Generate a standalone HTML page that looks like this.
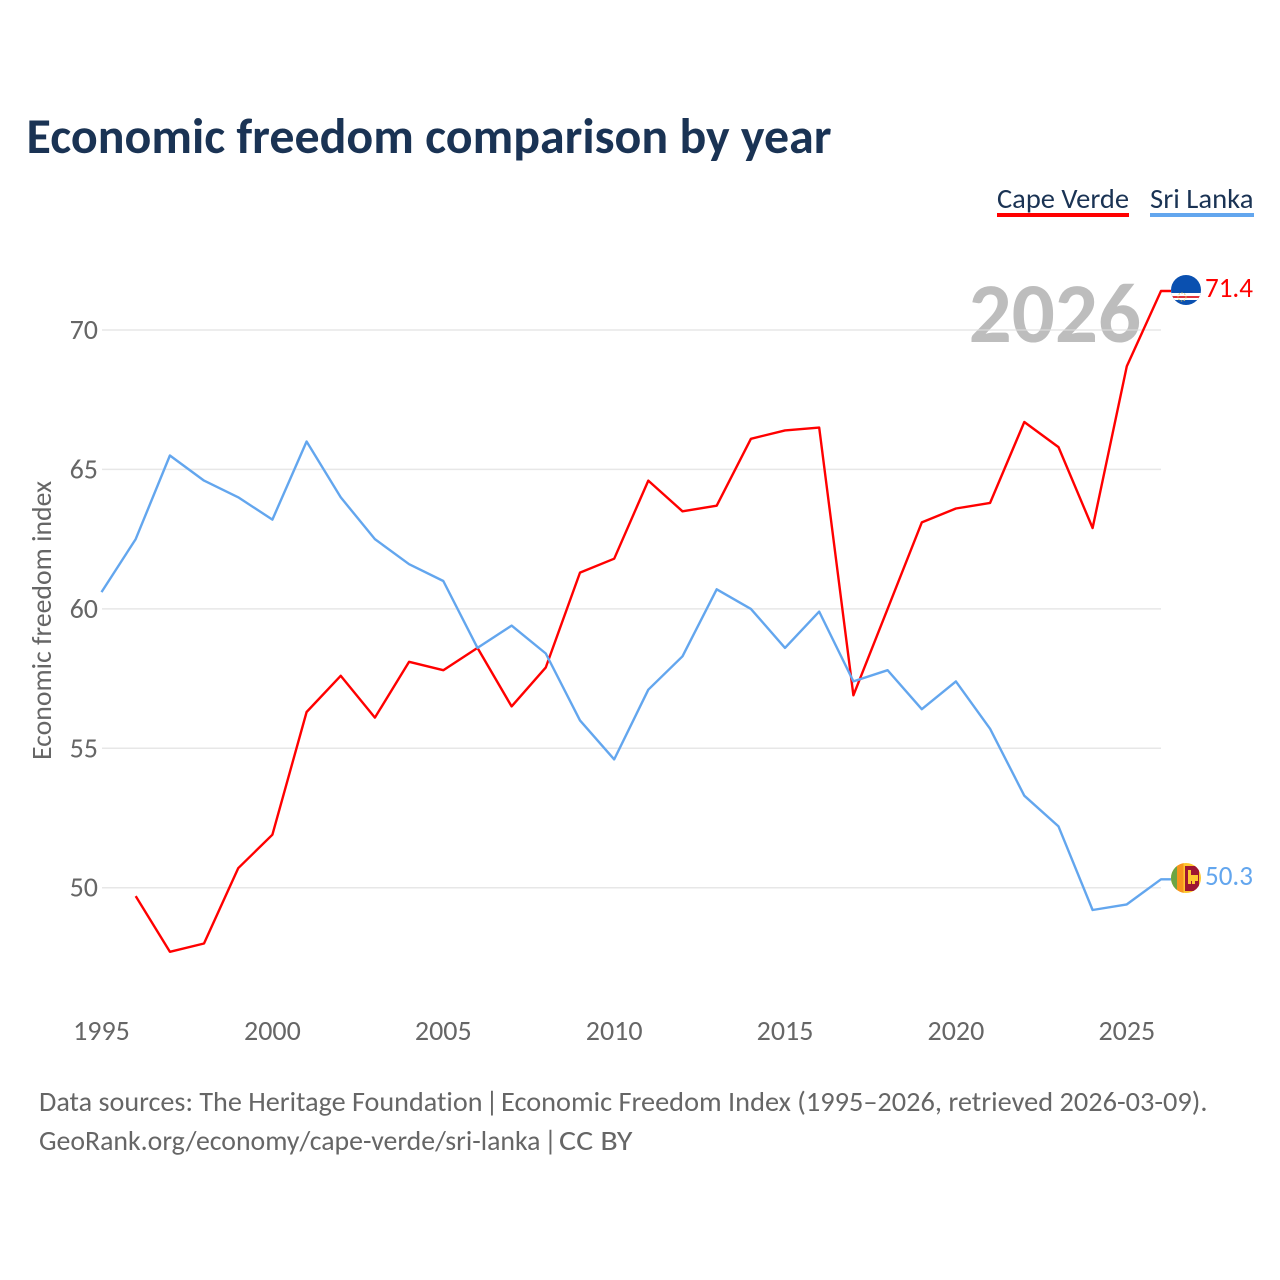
<!DOCTYPE html>
<html><head><meta charset="utf-8"><title>Economic freedom comparison by year</title>
<style>
html,body{margin:0;padding:0;background:#fff;width:1280px;height:1280px;overflow:hidden}
svg{display:block;font-family:Carlito,Lato,"Liberation Sans",sans-serif;font-variant-ligatures:none}
</style></head>
<body>
<svg id="chart" width="1280" height="1280" viewBox="0 0 1280 1280" xmlns="http://www.w3.org/2000/svg">
<defs>
<clipPath id="cv-clip"><circle cx="1186" cy="290" r="15"/></clipPath>
<clipPath id="lk-clip"><circle cx="1186" cy="878" r="15"/></clipPath>
</defs>
<text x="26.5" y="153" font-size="50" font-weight="700" fill="#1a3354" textLength="805" lengthAdjust="spacingAndGlyphs">Economic freedom comparison by year</text>
<text x="1141" y="342" text-anchor="end" font-size="85" font-weight="700" fill="#bdbdbd">2026</text>
<g id="grid"></g>
<g id="yticks"></g>
<g id="xticks"></g>
<text transform="translate(51,620.5) rotate(-90)" text-anchor="middle" font-size="27.5" fill="#666" textLength="279" lengthAdjust="spacingAndGlyphs">Economic freedom index</text>
<g id="series"></g>
<g>
<text x="997" y="208" font-size="28" fill="#1a3354" textLength="132" lengthAdjust="spacingAndGlyphs">Cape Verde</text>
<rect x="997" y="213" width="132" height="4" fill="#ff0000"/>
</g>
<g>
<text x="1150" y="208" font-size="28" fill="#1a3354" textLength="103.5" lengthAdjust="spacingAndGlyphs">Sri Lanka</text>
<rect x="1150" y="213" width="104" height="4" fill="#63a6ee"/>
</g>
<g clip-path="url(#cv-clip)">
<rect x="1171" y="275" width="30" height="30" fill="#0a50b0"/>
<rect x="1171" y="293" width="30" height="7" fill="#fff"/>
<rect x="1171" y="296" width="30" height="2" fill="#e0343c"/>
<circle cx="1182" cy="297" r="4" fill="none" stroke="#d8c060" stroke-width="1" stroke-dasharray="1.5 1.5"/>
</g>
<g clip-path="url(#lk-clip)">
<rect x="1171" y="863" width="30" height="30" fill="#fdc82f"/>
<rect x="1171" y="863" width="6" height="30" fill="#6ca544"/>
<rect x="1177" y="863" width="6.5" height="30" fill="#f7941d"/>
<rect x="1185" y="866" width="14" height="25" fill="#9e1631"/>
<rect x="1188" y="870" width="3" height="14" fill="#fdc82f"/>
<rect x="1188" y="875" width="10" height="6" fill="#fdc82f"/>
<rect x="1192" y="881" width="3" height="3" fill="#fdc82f"/>
</g>
<text id="cv-label" x="1205" y="297" font-size="28" fill="#ff0000" textLength="48" lengthAdjust="spacingAndGlyphs">71.4</text>
<text id="lk-label" x="1205" y="885" font-size="28" fill="#63a6ee" textLength="48" lengthAdjust="spacingAndGlyphs">50.3</text>
<g font-size="28" fill="#666">
<text x="39" y="1111" textLength="443.5" lengthAdjust="spacingAndGlyphs">Data sources: The Heritage Foundation</text>
<text x="485.5" y="1111">|</text>
<text x="501" y="1111" textLength="706.5" lengthAdjust="spacingAndGlyphs">Economic Freedom Index (1995–2026, retrieved 2026-03-09).</text>
<text x="39" y="1150" textLength="501.5" lengthAdjust="spacingAndGlyphs">GeoRank.org/economy/cape-verde/sri-lanka</text>
<text x="544" y="1150">|</text>
<text x="559" y="1150" textLength="73.5" lengthAdjust="spacingAndGlyphs">CC BY</text>
</g>
</svg>
<script>
const years = [1995,1996,1997,1998,1999,2000,2001,2002,2003,2004,2005,2006,2007,2008,2009,2010,2011,2012,2013,2014,2015,2016,2017,2018,2019,2020,2021,2022,2023,2024,2025,2026];
const capeVerde = [null,49.7,47.7,48.0,50.7,51.9,56.3,57.6,56.1,58.1,57.8,58.6,56.5,57.9,61.3,61.8,64.6,63.5,63.7,66.1,66.4,66.5,56.9,60.0,63.1,63.6,63.8,66.7,65.8,62.9,68.7,71.4];
const sriLanka = [60.6,62.5,65.5,64.6,64.0,63.2,66.0,64.0,62.5,61.6,61.0,58.6,59.4,58.4,56.0,54.6,57.1,58.3,60.7,60.0,58.6,59.9,57.4,57.8,56.4,57.4,55.7,53.3,52.2,49.2,49.4,50.3];
const yTickValues = [50,55,60,65,70];
const xTickValues = [1995,2000,2005,2010,2015,2020,2025];

const NS = 'http://www.w3.org/2000/svg';
function xScale(v){ return 101.5 + (v - 1995) * (1161 - 101.5) / 31; }
function yScale(v){ return 887.7 - (v - 50) * (887.7 - 330) / 20; }

const grid = document.getElementById('grid');
const yticks = document.getElementById('yticks');
const xticks = document.getElementById('xticks');
const seriesG = document.getElementById('series');

yTickValues.forEach(function(v){
  const l = document.createElementNS(NS,'line');
  
  
  l.setAttribute('x1', 102);
  l.setAttribute('x2', 1161);
  l.setAttribute('y1', yScale(v));
  l.setAttribute('y2', yScale(v));
  l.setAttribute('stroke', '#ddd');
  l.setAttribute('stroke-opacity', 0.7);
  l.setAttribute('stroke-width', 1.5);
  grid.appendChild(l);
  const t = document.createElementNS(NS,'text');
  
  
  t.setAttribute('x', 98);
  t.setAttribute('y', yScale(v) + 9);
  t.setAttribute('text-anchor', 'end');
  t.setAttribute('font-size', 28);
  t.setAttribute('fill', '#666');
  t.textContent = v;
  yticks.appendChild(t);
});

xTickValues.forEach(function(v){
  const t = document.createElementNS(NS,'text');
  
  
  t.setAttribute('x', xScale(v));
  t.setAttribute('y', 1040);
  t.setAttribute('text-anchor', 'middle');
  t.setAttribute('font-size', 28);
  t.setAttribute('fill', '#666');
  t.textContent = v;
  xticks.appendChild(t);
});

function drawSeries(values, color, name){
  const pts = [];
  values.forEach(function(v,i){
    if (v !== null) pts.push(xScale(years[i]).toFixed(1) + ',' + yScale(v).toFixed(1));
  });
  const last = values[values.length - 1];
  pts.push('1171,' + yScale(last).toFixed(1));
  const p = document.createElementNS(NS,'polyline');
  
  
  p.setAttribute('points', pts.join(' '));
  p.setAttribute('fill', 'none');
  p.setAttribute('stroke', color);
  p.setAttribute('stroke-width', 2.4);
  p.setAttribute('stroke-linejoin', 'round');
  seriesG.appendChild(p);
}
drawSeries(capeVerde, '#ff0000', 'cape-verde-line');
drawSeries(sriLanka, '#63a6ee', 'sri-lanka-line');
document.getElementById('cv-label').textContent = capeVerde[capeVerde.length - 1].toFixed(1);
document.getElementById('lk-label').textContent = sriLanka[sriLanka.length - 1].toFixed(1);
</script>
</body></html>
